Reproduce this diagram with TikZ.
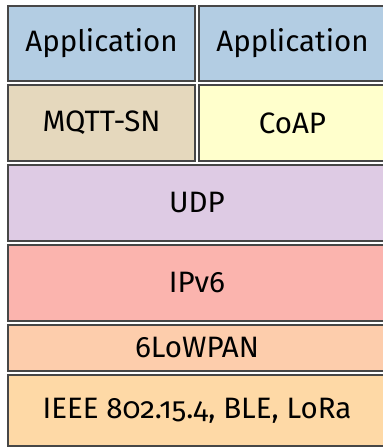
\documentclass[tikz,border=0pt]{standalone}
\usepackage{fontspec}
\setmainfont[Numbers=OldStyle]{Fira Sans}
\definecolor{appblue}{HTML}{B3CDE3}
\definecolor{mqttc}{HTML}{E5D8BD}
\definecolor{coapc}{HTML}{FFFFCC}
\definecolor{udpc}{HTML}{DECBE4}
\definecolor{ipc}{HTML}{FBB4AE}
\definecolor{lowc}{HTML}{FDCDAC}
\definecolor{ieeec}{HTML}{FED9A6}
\tikzset{
  layer/.style={draw=black!72, line width=1.2pt, anchor=north west, inner sep=0pt, outer sep=0pt,
    font=\fontsize{29.5}{35}\selectfont, align=center},
}
\begin{document}
\begin{tikzpicture}[x=1pt,y=-1pt]
\useasboundingbox (0,0) rectangle (383,448);
\clip (0,0) rectangle (383,448);
\node[layer, fill=appblue, minimum width=187pt, minimum height=75pt] (app1) at (8,6) {Application};
\node[layer, fill=appblue, minimum width=187pt, minimum height=75pt] (app2) at (199,6) {Application};
\node[layer, fill=mqttc, minimum width=187pt, minimum height=76pt] (mqtt) at (8,85) {MQTT-SN};
\node[layer, fill=coapc, minimum width=187pt, minimum height=76pt] (coap) at (199,85) {CoAP};
\node[layer, fill=udpc, minimum width=378pt, minimum height=76pt] (udp) at (8,165) {UDP};
\node[layer, fill=ipc, minimum width=378pt, minimum height=76pt] (ip) at (8,245) {IPv6};
\node[layer, fill=lowc, minimum width=378pt, minimum height=46pt] (low) at (8,325) {6LoWPAN};
\node[layer, fill=ieeec, minimum width=378pt, minimum height=71pt] (ieee) at (8,375) {IEEE 802.15.4, BLE, LoRa};
\end{tikzpicture}
\end{document}
